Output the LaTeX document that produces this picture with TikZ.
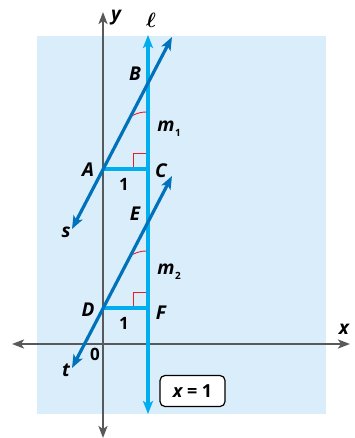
\documentclass[tikz,border=0pt]{standalone}
\usepackage{bm}
\usepackage{fontspec}
\setmainfont{Open Sans}
\usetikzlibrary{arrows.meta,calc}
\definecolor{bgblue}{RGB}{218,237,250}
\definecolor{lcyan}{RGB}{0,174,239}
\definecolor{dblue}{RGB}{0,114,188}
\definecolor{axgray}{RGB}{88,89,91}
\definecolor{mred}{RGB}{237,28,36}
\tikzset{
  axis/.style={draw=axgray, line width=2.2pt, -{Stealth[length=12pt,width=9pt,inset=3pt]}},
  vline/.style={draw=lcyan, line width=3.2pt},
  tline/.style={draw=dblue, line width=3.2pt, {Stealth[length=13pt,width=10pt,inset=3pt]}-{Stealth[length=13pt,width=10pt,inset=3pt]}},
  seg/.style={draw=lcyan, line width=3.2pt},
  redmark/.style={draw=mred, line width=0.9pt},
  lab/.style={font=\fontsize{19}{19}\selectfont\bfseries\itshape, text=black, inner sep=0pt},
  num/.style={font=\fontsize{17}{17}\selectfont\bfseries, text=black, inner sep=0pt},
  sub/.style={font=\fontsize{10}{10}\selectfont\bfseries, text=black, inner sep=0pt},
  eqbox/.style={draw=black, line width=1.2pt, rounded corners=5pt, fill=white, font=\fontsize{18}{18}\selectfont\bfseries, minimum width=65pt, minimum height=31pt, inner sep=0pt}
}
\begin{document}
\begin{tikzpicture}[x=1pt,y=-1pt]
\useasboundingbox (0,0) rectangle (355,438);
\fill[bgblue] (37,36) rectangle (326,414);
% coordinates
\coordinate (A) at (103,169);
\coordinate (C) at (148,169);
\coordinate (B) at (148,83);
\coordinate (D) at (103,308);
\coordinate (F) at (148,308);
\coordinate (E) at (148,222);
\coordinate (stop) at (172,37);
\coordinate (sbot) at (72,229);
\coordinate (ttop) at (172,176);
\coordinate (tbot) at (72,368);
\coordinate (O) at (103,344);
\coordinate (ytop) at (103,12);
\coordinate (ybot) at (103,438);
\coordinate (xleft) at (12,344);
\coordinate (xright) at (350,344);
\coordinate (ltop) at (148,35);
\coordinate (lbot) at (148,414);
% axes
\draw[axis] (O) -- (ytop);
\draw[axis] (O) -- (xleft);
\draw[axis] (O) -- (xright);
\draw[axis] (O) -- (ybot);
% line l
\draw[vline, {Stealth[length=13pt,width=10pt,inset=3pt]}-{Stealth[length=13pt,width=10pt,inset=3pt]}] (lbot) -- (ltop);
% horizontal segments
\draw[seg] (A) -- (C);
\draw[seg] (D) -- (F);
% red marks
\draw[redmark] ($(C)+(-15,-1.8)$) -- ++(0,-13.5) -- ++(13.3,0);
\draw[redmark] ($(F)+(-15,-1.8)$) -- ++(0,-13.5) -- ++(13.3,0);
\draw[redmark] ($(B)+(-1.6,29)$) arc[start angle=270, end angle=242.4, radius=29];
\draw[redmark] ($(E)+(-1.6,29)$) arc[start angle=270, end angle=242.4, radius=29];
% slanted lines
\draw[tline] (sbot) -- (stop);
\draw[tline] (tbot) -- (ttop);
% labels
\node[lab] (lB) at (135,74) {B};
\node[lab] (lA) at (88,170) {A};
\node[lab] (lC) at (161,171) {C};
\node[num] (l1a) at (124,184) {1};
\node[lab] (lm1) at (166,126) {m};
\node[sub] (lm1s) at (178,133) {1};
\node[lab] (ls) at (66,232) {s};
\node[lab] (lE) at (135,214) {E};
\node[lab] (lm2) at (166,269) {m};
\node[sub] (lm2s) at (178,276) {2};
\node[lab] (lD) at (88,310) {D};
\node[lab] (lF) at (161,313) {F};
\node[num] (l1b) at (124,323) {1};
\node[lab] (lt) at (66,370) {t};
\node[num] (l0) at (95,354) {0};
\node[lab] (lx) at (344,329) {x};
\node[lab] (ly) at (116,18) {y};
\node[inner sep=0pt] (ll) at (151,20) {\fontsize{20}{20}\selectfont$\bm{\ell}$};
\node[eqbox] (eq) at (192.5,391) {\itshape x\upshape\ =\ 1};
\end{tikzpicture}
\end{document}
